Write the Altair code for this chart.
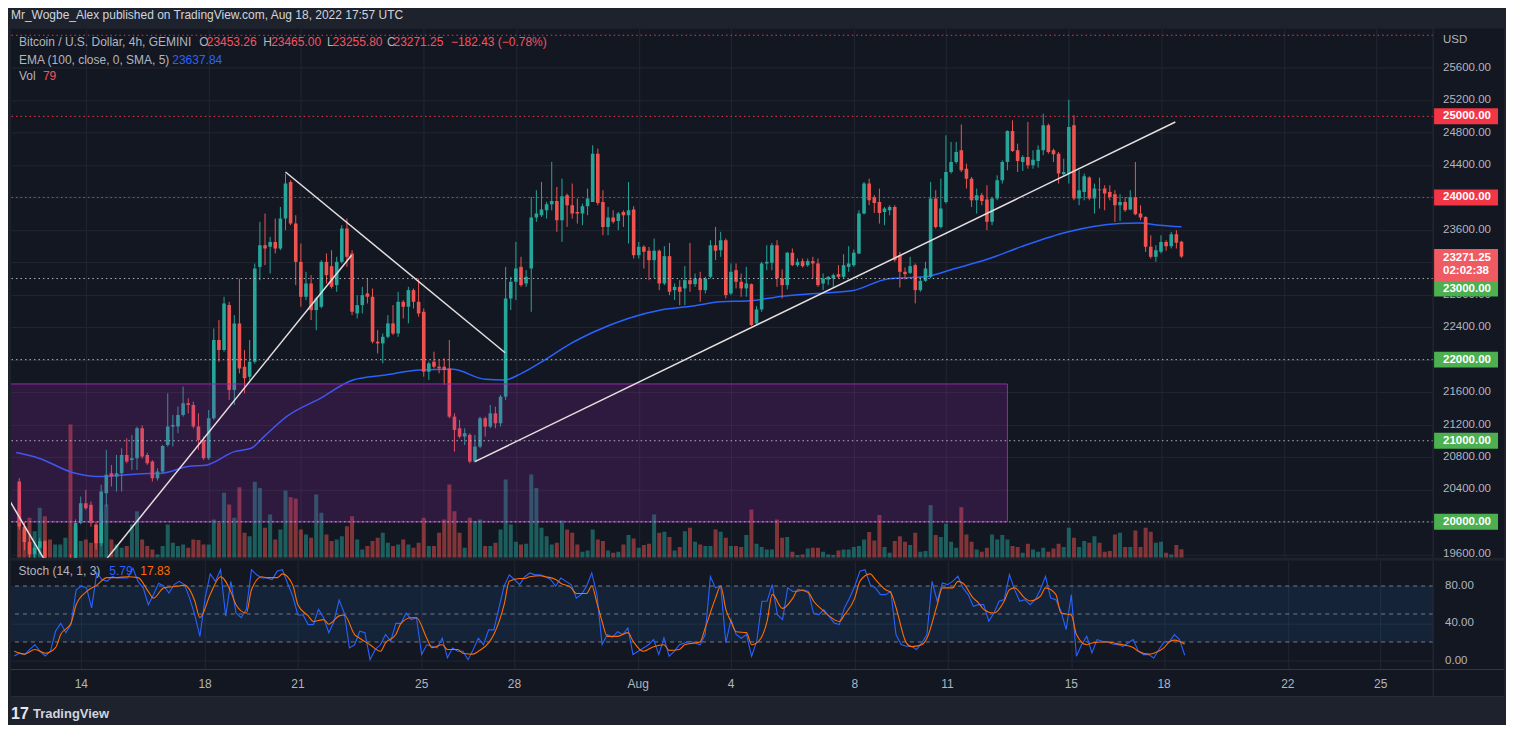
import altair as alt
import pandas as pd

# ------------------------------------------------------------------ data
# 4h candles, index 0 = Jul 11 20:00 UTC ... index 227 = Aug 18 16:00 UTC
OPEN = [
    20497, 19942, 19750, 19600, 19680, 19760, 19500, 19330, 19380, 19420,
    19470, 19380, 19984, 20230, 20209, 19963, 19737, 20353, 20599, 20558,
    20599, 20825, 20763, 20784, 21153, 20825, 20743, 20538, 20620, 20948,
    21174, 21174, 21318, 21461, 21441, 21174, 21010, 20784, 21277, 22241,
    22118, 22673, 21626, 22447, 21913, 21790, 21974, 23144, 23411, 23391,
    23452, 23370, 23740, 24191, 23678, 23206, 22775, 22939, 22611, 22652,
    23206, 23152, 22919, 23206, 23616, 23309, 22570, 22672, 22816, 22775,
    22221, 22200, 22282, 22447, 22323, 22713, 22652, 22857, 22713, 22590,
    21851, 21974, 21913, 21913, 21892, 21297, 21153, 21051, 21072, 20743,
    20928, 21277, 21174, 21338, 21215, 21543, 22754, 22960, 23144, 22939,
    23124, 23752, 23781, 23842, 23916, 23957, 23719, 24027, 23904, 23822,
    23801, 23892, 23945, 24540, 23945, 23637, 23752, 23711, 23822, 23781,
    23850, 23288, 23391, 23342, 23227, 23342, 22939, 23276, 22857, 22898,
    22878, 22980, 22931, 23001, 22857, 23021, 23411, 23350, 23473, 22816,
    23103, 22960, 22878, 22931, 22447, 22619, 23186, 23194, 23411, 23001,
    22919, 23317, 23165, 23214, 23165, 23214, 23186, 22939, 22988, 23001,
    23054, 23021, 23144, 23165, 23309, 23801, 24171, 24007, 23945, 23822,
    23842, 23883, 23288, 23083, 23070, 23165, 22857, 22972, 23021, 23986,
    23637, 23945, 24314, 24438, 24581, 24355, 24232, 23965, 24027, 23974,
    23700, 23986, 24212, 24437, 24819, 24581, 24438, 24499, 24396, 24450,
    24581, 24889, 24581, 24540, 24286, 24294, 24889, 23986, 24068, 24245,
    23986, 24097, 24109, 24068, 24039, 23904, 23945, 23850, 24007, 23801,
    23760, 23391, 23268, 23329, 23452, 23399, 23547, 23453.26,
]
HIGH = [
    20539, 20000, 19850, 19720, 19800, 19780, 19540, 19420, 19450, 19500,
    19600, 20030, 20312, 20394, 20250, 20000, 20456, 20887, 20702, 20825,
    20907, 21030, 21071, 21174, 21190, 20850, 20760, 20660, 20948, 21584,
    21318, 21420, 21667, 21523, 21482, 21338, 21051, 21379, 22385, 22488,
    22775, 22713, 22549, 23001, 22118, 22241, 23185, 23699, 23801, 23514,
    23740, 23883, 24294, 24212, 23781, 23432, 23083, 23042, 22775, 23226,
    23309, 23350, 23268, 23657, 23740, 23350, 22795, 22898, 23001, 22877,
    22364, 22323, 22549, 22672, 22837, 22734, 22898, 22877, 23001, 22631,
    21974, 22098, 21995, 22016, 22241, 21338, 21256, 21153, 21092, 21072,
    21297, 21297, 21441, 21420, 21564, 23144, 23021, 23452, 23268, 23103,
    24007, 24089, 24191, 23945, 24438, 24130, 24232, 24048, 24171, 23986,
    23924, 24109, 24643, 24602, 24089, 23883, 23842, 23822, 23842, 24191,
    23892, 23452, 23411, 23391, 23493, 23358, 23399, 23440, 22939, 22980,
    23153, 23440, 23062, 23083, 23021, 23473, 23637, 23576, 23493, 23186,
    23186, 23062, 23144, 22939, 22660, 23206, 23411, 23440, 23473, 23112,
    23329, 23370, 23247, 23247, 23247, 23268, 23247, 23062, 23029, 23062,
    23165, 23300, 23399, 23358, 23842, 24191, 24232, 24027, 24109, 23883,
    23904, 23904, 23329, 23136, 23268, 23186, 23021, 23206, 24191, 24089,
    24232, 24766, 24684, 24684, 24900, 24417, 24253, 24109, 24056, 24150,
    24007, 24273, 24458, 24827, 24951, 24663, 24520, 24930, 24581, 24643,
    25033, 24910, 24602, 24561, 24478, 25205, 25012, 24335, 24294, 24261,
    24171, 24245, 24150, 24150, 24089, 24039, 24007, 24089, 24437, 23904,
    23768, 23534, 23411, 23534, 23473, 23575, 23596, 23465.00,
]
LOW = [
    19902, 19650, 19560, 19520, 19600, 19450, 19280, 19250, 19300, 19350,
    18910, 19350, 19970, 20148, 19940, 19660, 19700, 20189, 20435, 20373,
    20374, 20722, 20640, 20640, 20780, 20702, 20497, 20510, 20599, 20928,
    20928, 21092, 21297, 21338, 21153, 20887, 20764, 20764, 21256, 21974,
    22098, 21502, 21441, 21831, 21584, 21749, 21950, 22980, 23165, 23062,
    23309, 23350, 23596, 23658, 22919, 22652, 22734, 22488, 22364, 22632,
    22939, 22877, 22837, 23186, 23144, 22549, 22508, 22570, 22693, 22200,
    22077, 21954, 22262, 22303, 22282, 22508, 22447, 22631, 22529, 21790,
    21749, 21892, 21831, 21687, 21277, 20866, 21030, 20948, 20722, 20731,
    20907, 21051, 21153, 21153, 21174, 21502, 22611, 22734, 22898, 22898,
    22590, 23699, 23760, 23740, 23842, 23576, 23452, 23637, 23740, 23678,
    23658, 23781, 23945, 23904, 23535, 23535, 23678, 23596, 23637, 23432,
    23247, 23247, 23124, 22980, 23001, 22857, 22919, 22796, 22734, 22672,
    22672, 22837, 22898, 22714, 22816, 23001, 23227, 23268, 22755, 22796,
    22878, 22775, 22775, 22414, 22426, 22590, 23103, 23103, 22898, 22755,
    22865, 23153, 23144, 23136, 23144, 23001, 22898, 22857, 22919, 22898,
    23001, 23001, 23083, 23144, 23300, 23790, 23904, 23809, 23678, 23658,
    23781, 23206, 22890, 22988, 23054, 22693, 22837, 22960, 23001, 23617,
    23617, 23924, 24294, 24417, 24314, 24109, 23883, 23801, 23904, 23596,
    23658, 23966, 24171, 24335, 24561, 24314, 24327, 24355, 24355, 24368,
    24520, 24540, 24437, 24171, 24253, 24171, 23965, 23904, 23965, 23965,
    23801, 23863, 23842, 23965, 23699, 23711, 23822, 23842, 23781, 23719,
    23329, 23247, 23206, 23309, 23342, 23370, 23370, 23255.80,
]
CLOSE = [
    19942, 19750, 19600, 19680, 19760, 19500, 19330, 19380, 19420, 19470,
    19380, 19984, 20230, 20168, 19984, 19737, 20374, 20579, 20558, 20600,
    20825, 20743, 20784, 21153, 20805, 20722, 20538, 20620, 20936, 21174,
    21195, 21318, 21461, 21441, 21174, 21010, 20784, 21277, 22241, 22118,
    22693, 21626, 22447, 21892, 21769, 21974, 23124, 23411, 23370, 23452,
    23370, 23740, 24171, 23678, 23206, 22775, 22939, 22611, 22754, 23206,
    23042, 22898, 23206, 23616, 23268, 22590, 22672, 22795, 22775, 22221,
    22200, 22282, 22447, 22323, 22713, 22652, 22857, 22713, 22570, 21851,
    21954, 21913, 21892, 21872, 21297, 21133, 21051, 21092, 20743, 20928,
    21277, 21174, 21338, 21215, 21543, 22754, 22960, 23124, 22919, 23021,
    23752, 23801, 23851, 23916, 23957, 23719, 24015, 23904, 23801, 23801,
    23892, 23986, 24540, 23933, 23637, 23752, 23699, 23801, 23781, 23842,
    23288, 23391, 23329, 23227, 23342, 22939, 23276, 22837, 22898, 22837,
    22980, 22931, 23001, 22857, 23001, 23411, 23342, 23473, 22796, 23083,
    22960, 22878, 22939, 22426, 22619, 23186, 23206, 23411, 23001, 22919,
    23317, 23165, 23206, 23153, 23214, 23186, 22919, 23001, 23021, 23042,
    23021, 23165, 23186, 23317, 23801, 24171, 23966, 23933, 23809, 23863,
    23883, 23227, 23083, 23054, 23153, 22857, 22972, 23124, 23986, 23637,
    23863, 24314, 24438, 24561, 24335, 24232, 23965, 24027, 23957, 23700,
    23986, 24212, 24437, 24819, 24573, 24450, 24499, 24396, 24466, 24589,
    24889, 24561, 24532, 24294, 24314, 24868, 23986, 24089, 24261, 23986,
    24109, 24089, 24048, 24007, 23904, 23945, 23842, 24007, 23793, 23752,
    23391, 23268, 23350, 23452, 23399, 23547, 23440, 23271.25,
]
VOLUME = [
    454, 266, 376, 250, 470, 391, 172, 125, 125, 188,
    1252, 297, 157, 172, 141, 313, 438, 501, 172, 125,
    94, 110, 313, 438, 172, 110, 78, 31, 110, 313,
    141, 110, 125, 94, 172, 166, 125, 125, 360, 329,
    610, 501, 376, 664, 235, 203, 714, 657, 282, 407,
    172, 266, 632, 570, 557, 266, 219, 188, 595, 423,
    219, 157, 172, 203, 297, 391, 172, 78, 110, 157,
    188, 235, 141, 110, 125, 172, 125, 94, 141, 376,
    110, 110, 235, 360, 689, 438, 235, 94, 376, 344,
    360, 110, 110, 141, 266, 736, 313, 150, 125, 131,
    783, 657, 282, 203, 125, 141, 351, 266, 235, 125,
    56, 69, 266, 172, 157, 69, 47, 56, 125, 213,
    182, 94, 119, 131, 407, 235, 244, 194, 69, 100,
    250, 282, 150, 125, 110, 110, 266, 244, 188, 110,
    110, 100, 213, 454, 131, 100, 78, 78, 360, 188,
    194, 56, 25, 31, 88, 94, 94, 56, 31, 25,
    69, 78, 78, 100, 110, 172, 241, 163, 401, 100,
    47, 157, 203, 150, 119, 235, 56, 63, 495, 213,
    194, 319, 150, 94, 476, 219, 150, 78, 56, 94,
    219, 172, 213, 172, 110, 100, 47, 131, 78, 56,
    94, 56, 88, 131, 100, 282, 188, 100, 157, 141,
    203, 141, 56, 63, 219, 235, 100, 100, 257, 100,
    282, 244, 141, 150, 47, 31, 119, 79,
]
STOCH_K = [
    5, 8, 6.5, 12, 17, 10, 5, 10, 31.5, 40,
    30, 38.6, 76, 80, 78, 56.5, 94, 87, 85, 90,
    88.6, 88.6, 88.6, 99, 85, 78, 60, 71, 83, 80,
    72.5, 81.5, 85, 81.5, 67, 49, 26, 67, 93, 85,
    97.5, 47.6, 85, 51, 46, 55, 97.5, 92, 88.6, 88.6,
    87, 96, 97.5, 83, 69, 49, 49, 38.6, 38.6, 55,
    46, 30, 42, 65, 51, 13.6, 17, 31.5, 30, 1,
    12, 17, 28, 21, 40, 40, 51, 44, 46, 6.5,
    17, 15.4, 13.6, 24, 3, 13.6, 10, 10, 1, 12,
    24, 17, 33, 33, 56.5, 80, 92, 87, 81.5, 90,
    94, 92, 92, 90, 87, 80, 88.6, 85, 81.5, 67,
    71, 80, 94, 71, 17.2, 28, 25, 31, 28, 35,
    6.5, 10, 13.6, 17, 22.6, 6.5, 24.4, 4.7, 10, 17,
    19, 20.8, 19, 17, 28, 90, 78, 80, 19, 44,
    28, 24, 28, 4.7, 20.8, 63.6, 63.6, 81.5, 49.3, 44,
    78, 74.3, 74.3, 76, 74.3, 51, 49, 54.7, 47.6, 40.4,
    38.6, 56.5, 67.2, 79.7, 95.8, 97.5, 81.5, 77.9, 70.8, 70.8,
    74.3, 28, 17.2, 15.4, 15.4, 11.9, 19, 27.9, 85, 63.6,
    83.3, 81.5, 85, 90.4, 77.9, 70.8, 58.3, 60, 60, 42.2,
    51.1, 63.6, 65.4, 92.2, 76.1, 63.6, 65.4, 60, 65.4, 76.1,
    90.4, 67.2, 65.4, 52.9, 33.3, 70.8, 4.7, 17.2, 26.1, 8.3,
    22.6, 20.8, 20.1, 17.9, 17.2, 15.4, 19, 22.6, 10.1, 6.5,
    6.5, 2.9, 11.9, 20.1, 20.1, 27.9, 22.6, 5.79,
]
STOCH_D_IDX = [
    0, 2, 4, 6, 8, 9, 11, 12, 14, 16, 18, 20, 22, 24, 26, 27, 29, 32, 33, 35,
    36, 38, 40, 42, 43, 45, 46, 48, 49, 51, 52, 54, 55, 57, 58, 60, 61, 63, 64, 66,
    67, 69, 71, 72, 74, 75, 77, 78, 80, 81, 83, 84, 86, 87, 89, 90, 92, 93, 95, 96,
    98, 99, 100, 102, 103, 105, 106, 108, 109, 111, 112, 113, 114, 115, 117, 119, 120, 122, 124, 126,
    127, 129, 130, 132, 133, 134, 136, 137, 138, 139, 140, 142, 143, 144, 146, 147, 149, 151, 152, 154,
    155, 157, 158, 160, 161, 163, 164, 166, 167, 169, 170, 171, 173, 174, 176, 177, 179, 180, 182, 183,
    184, 186, 187, 188, 190, 192, 193, 194, 196, 197, 199, 200, 202, 203, 205, 206, 208, 209, 211, 212,
    214, 215, 217, 218, 220, 221, 223, 224, 225, 227,
]
STOCH_D = [
    10, 7, 12, 8, 14, 28, 40, 60, 74, 81, 89, 89, 90, 89, 74, 67, 78, 80, 81, 64,
    46, 71, 90, 74, 60, 51, 76, 90, 89, 89, 93, 81, 60, 48, 42, 44, 39, 48, 49, 28,
    24, 17, 10, 19, 28, 40, 46, 46, 24, 14, 17, 12, 12, 8, 7, 10, 19, 28, 60, 85,
    88, 88, 90, 91, 90, 87, 83, 78, 72, 72, 80, 62, 42, 26, 26, 30, 21, 10, 15, 17,
    11, 12, 17, 19, 20, 35, 67, 80, 55, 42, 31, 30, 17, 19, 42, 71, 56, 67, 76, 73,
    64, 53, 48, 42, 49, 67, 85, 93, 87, 76, 73, 57, 19, 15, 17, 24, 60, 78, 78, 85,
    83, 67, 62, 55, 51, 64, 76, 78, 67, 64, 69, 78, 71, 51, 49, 28, 17, 19, 20, 20,
    18, 17, 14, 10, 7, 8, 14, 20, 22, 17.83,
]
EMA_IDX = [-0.6, 3.8, 10.4, 15.3, 23.2, 27.8, 32.9, 36.7, 42.0, 45.3, 47.8, 52.2,
           58.8, 65.2, 71.6, 78.2, 84.6, 91.0, 94.8, 98.1, 102.6, 107.2, 112.3,
           118.9, 125.3, 131.6, 136.9, 142.7, 149.1, 155.7, 162.6, 169.8, 176.9,
           182.8, 189.2, 195.6, 204.7, 214.9, 218.8, 222.7, 227.0]
EMA_VAL = [20854, 20785, 20608, 20558, 20591, 20600, 20681, 20702, 20866, 20907,
           21050, 21297, 21523, 21749, 21810, 21872, 21880, 21757, 21749, 21831,
           21995, 22180, 22344, 22508, 22611, 22660, 22713, 22726, 22783, 22816,
           22849, 22997, 23021, 23124, 23240, 23390, 23575, 23679, 23686, 23658,
           23637.84]

TICK_IDX = [13, 37, 55, 79, 97, 121, 139, 163, 181, 205, 223, 247, 265]
TICK_LABELS = ["14", "18", "21", "25", "28", "Aug", "4", "8", "11", "15", "18", "22", "25"]
PRICE_TICKS = [19600, 20000, 20400, 20800, 21200, 21600, 22000, 22400, 22800,
               23200, 23600, 24000, 24400, 24800, 25200, 25600]
# price-scale labels left visible (the others sit under the coloured tags)
PRICE_LABELS = [19600, 20400, 20800, 21200, 21600, 22400, 22800,
                23600, 24400, 24800, 25200, 25600]
RED_LEVELS = [26000, 25000, 24000]
GREY_LEVELS = [23000, 22000, 21000, 20000]
RED_LABELS = [25000, 24000]
GREEN_LABELS = [23000, 22000, 21000, 20000]
BOX_IDX = [-5, 193]
BOX_PRICE = [20000, 21700]
TREND_SEG = [1, 1, 2, 2, 3, 3, 4, 4]
TREND_IDX = [-3, 6, 10, 64.9, 52, 94.9, 89, 225.8]
TREND_PRICE = [20380, 19416, 18990, 23288, 24314, 22085, 20743, 24930]
STOCH_GRID = [0, 40]
STOCH_TICKS = [0, 40, 80]
STOCH_LINES = [20, 50, 80]
STOCH_BAND = [20, 80]
TIMER = "02:02:38"
CHANGE = "\u2212182.43 (\u22120.78%)"
HEADER = "Mr_Wogbe_Alex published on TradingView.com, Aug 18, 2022 17:57 UTC"

# ------------------------------------------------------------------ layout / style
W, H, H2 = 1424, 530, 109
X_DOMAIN = [-0.64, 275.17]
P_DOMAIN = [19557, 26084]
V_DOMAIN = [0, 4977]
S_DOMAIN = [-9.6, 107.1]
FONT = "Liberation Sans"
BG = "#131722"
FRAME = "#1e222d"
GRID = "#222632"
TXT = "#b2b5be"
UP = "#26a69a"
DN = "#ef5350"
BLUE = "#2962ff"
ORANGE = "#ff6d00"
GREY_T = "#b2b5be"
RED_T = "#f7525f"

n = min(len(OPEN), len(HIGH), len(LOW), len(CLOSE), len(VOLUME), len(STOCH_K))
df = pd.DataFrame({"i": list(range(n)), "o": OPEN[:n], "h": HIGH[:n], "l": LOW[:n],
                   "c": CLOSE[:n], "v": VOLUME[:n], "k": STOCH_K[:n]})
m = min(len(STOCH_D_IDX), len(STOCH_D))
d_df = pd.DataFrame({"i": STOCH_D_IDX[:m], "d": STOCH_D[:m]})
m2 = min(len(EMA_IDX), len(EMA_VAL))
ema_df = pd.DataFrame({"i": EMA_IDX[:m2], "e": EMA_VAL[:m2]})
one = pd.DataFrame({"z": [0]})

xs = alt.Scale(domain=X_DOMAIN, nice=False, zero=False)
ys = alt.Scale(domain=P_DOMAIN, nice=False, zero=False)
ss = alt.Scale(domain=S_DOMAIN, nice=False, zero=False)
x_axis = alt.Axis(values=TICK_IDX, grid=True, gridColor=GRID, gridWidth=1,
                  labels=False, ticks=False, domain=False, title=None)
y_axis = alt.Axis(values=PRICE_TICKS, grid=True, gridColor=GRID, gridWidth=1,
                  labels=False, ticks=False, domain=False, title=None)
s_axis = alt.Axis(values=STOCH_GRID, grid=True, gridColor=GRID, gridWidth=1,
                  labels=False, ticks=False, domain=False, title=None)


def X(field="i"):
    return alt.X(f"{field}:Q", scale=xs, axis=x_axis)


def Y(field, grid=False):
    if grid:
        return alt.Y(f"{field}:Q", scale=ys, axis=y_axis)
    return alt.Y(f"{field}:Q", scale=ys, axis=None)


def SY(field, grid=False):
    if grid:
        return alt.Y(f"{field}:Q", scale=ss, axis=s_axis)
    return alt.Y(f"{field}:Q", scale=ss, axis=None)


def pix_rect(x1, x2, y1, y2, color):
    return alt.Chart(one).mark_rect(color=color).encode(
        x=alt.value(x1), x2=alt.value(x2), y=alt.value(y1), y2=alt.value(y2))


def pix_rule(x1, x2, y1, y2, color):
    return alt.Chart(one).mark_rule(color=color, strokeWidth=1).encode(
        x=alt.value(x1), x2=alt.value(x2), y=alt.value(y1), y2=alt.value(y2))


def txt(s, x, y, color, size=12, weight="normal", align="left"):
    return alt.Chart(pd.DataFrame({"t": [s]})).mark_text(
        align=align, baseline="middle", color=color, fontSize=size,
        font=FONT, fontWeight=weight).encode(text="t:N", x=alt.value(x), y=alt.value(y))


base = alt.Chart(df)
is_up = alt.datum.c >= alt.datum.o
is_dn = alt.datum.c < alt.datum.o

vol_up = base.transform_filter(is_up).mark_bar(size=4, color=UP, opacity=0.5, clip=True).encode(
    x=X(), y=alt.Y("v:Q", scale=alt.Scale(domain=V_DOMAIN, nice=False), axis=None))
vol_dn = base.transform_filter(is_dn).mark_bar(size=4, color=DN, opacity=0.5, clip=True).encode(
    x=X(), y=alt.Y("v:Q", scale=alt.Scale(domain=V_DOMAIN, nice=False), axis=None))

ema = alt.Chart(ema_df).mark_line(color=BLUE, strokeWidth=1.5, clip=True,
                                  interpolate="monotone").encode(x=X(), y=Y("e"))

wick_up = base.transform_filter(is_up).mark_rule(color=UP, strokeWidth=1, clip=True).encode(
    x=X(), y=Y("l", grid=True), y2=alt.Y2("h"))
wick_dn = base.transform_filter(is_dn).mark_rule(color=DN, strokeWidth=1, clip=True).encode(
    x=X(), y=Y("l"), y2=alt.Y2("h"))
body_up = base.transform_filter(is_up).mark_bar(size=3.6, color=UP, clip=True).encode(
    x=X(), y=Y("o"), y2=alt.Y2("c"))
body_dn = base.transform_filter(is_dn).mark_bar(size=3.6, color=DN, clip=True).encode(
    x=X(), y=Y("o"), y2=alt.Y2("c"))

box_df = pd.DataFrame({"i1": [BOX_IDX[0]], "i2": [BOX_IDX[1]],
                       "p1": [BOX_PRICE[0]], "p2": [BOX_PRICE[1]]})
box = alt.Chart(box_df).mark_rect(fill="#9c27b0", fillOpacity=0.2, stroke="#9c27b0",
                                  strokeWidth=1, clip=True).encode(
    x=X("i1"), x2=alt.X2("i2"), y=Y("p1"), y2=alt.Y2("p2"))

lv_red = alt.Chart(pd.DataFrame({"p": RED_LEVELS})).mark_rule(
    color="#f23645", strokeDash=[1.5, 3], strokeWidth=1).encode(y=Y("p"))
lv_grey = alt.Chart(pd.DataFrame({"p": GREY_LEVELS})).mark_rule(
    color="#c9ccd3", strokeDash=[1.5, 3], strokeWidth=1, opacity=0.85).encode(y=Y("p"))

trend_df = pd.DataFrame({"seg": TREND_SEG, "i": TREND_IDX, "p": TREND_PRICE})
trend = alt.Chart(trend_df).mark_line(color="#e6dfe0", strokeWidth=1.5, clip=True).encode(
    x=X(), y=Y("p"), detail="seg:N")

price_labels = alt.Chart(pd.DataFrame({"p": PRICE_LABELS})).transform_calculate(
    t="format(datum.p, '.2f')").mark_text(
    align="left", baseline="middle", color=TXT, fontSize=11.5, font=FONT).encode(
    x=alt.value(W + 10), y=Y("p"), text="t:N")


def level_labels(vals, color, shift=0):
    d = pd.DataFrame({"p": vals})
    r = alt.Chart(d).mark_rect(color=color, yOffset=-8 + shift, y2Offset=8 + shift).encode(
        x=alt.value(W + 1), x2=alt.value(W + 65), y=Y("p"), y2=alt.Y2("p"))
    t = alt.Chart(d).transform_calculate(t="format(datum.p, '.2f')").mark_text(
        align="left", baseline="middle", color="#ffffff", fontSize=11.5, font=FONT,
        fontWeight="bold", dy=shift).encode(x=alt.value(W + 10), y=Y("p"), text="t:N")
    return [r, t]


cp_df = pd.DataFrame({"p": [CLOSE[n - 1]], "t": [f"{CLOSE[n - 1]:.2f}"], "tm": [TIMER]})
cp_rect = alt.Chart(cp_df).mark_rect(color="#f05a62", yOffset=-7.5, y2Offset=24.5).encode(
    x=alt.value(W + 1), x2=alt.value(W + 65), y=Y("p"), y2=alt.Y2("p"))
cp_txt = alt.Chart(cp_df).mark_text(align="left", baseline="middle", color="#ffffff",
                                    fontSize=11.5, font=FONT, fontWeight="bold", dy=1).encode(
    x=alt.value(W + 10), y=Y("p"), text="t:N")
cp_tm = alt.Chart(cp_df).mark_text(align="left", baseline="middle", color="#ffffff",
                                   fontSize=11.5, font=FONT, fontWeight="bold", dy=14.5).encode(
    x=alt.value(W + 10), y=Y("p"), text="tm:N")

legend = [
    txt("Bitcoin / U.S. Dollar, 4h, GEMINI", 8, 13.7, GREY_T),
    txt("O", 188.5, 13.7, GREY_T), txt(f"{OPEN[n - 1]:.2f}", 196, 13.7, RED_T),
    txt("H", 252.5, 13.7, GREY_T), txt(f"{HIGH[n - 1]:.2f}", 260.5, 13.7, RED_T),
    txt("L", 316.5, 13.7, GREY_T), txt(f"{LOW[n - 1]:.2f}", 322, 13.7, RED_T),
    txt("C", 376.5, 13.7, GREY_T), txt(f"{CLOSE[n - 1]:.2f}", 383, 13.7, RED_T),
    txt(CHANGE, 440.5, 13.7, RED_T),
    txt("EMA (100, close, 0, SMA, 5)", 8, 31.3, GREY_T),
    txt(f"{EMA_VAL[m2 - 1]:.2f}", 161.5, 31.3, BLUE),
    txt("Vol", 8, 48, GREY_T), txt(f"{VOLUME[n - 1]}", 32, 48, RED_T),
]

main_layers = [
    pix_rect(0, W + 71, -20, 0, FRAME),
    vol_up, vol_dn, ema,
    wick_up, wick_dn, body_up, body_dn,
    box, lv_red, lv_grey, trend,
    pix_rect(W, W + 71, 0, H, BG),
    pix_rule(W, W, 0, H, "#2a2e39"),
    price_labels,
    *level_labels(RED_LABELS, "#f23645"),
    *level_labels(GREEN_LABELS[:1], "#4caf50", shift=10),
    *level_labels(GREEN_LABELS[1:], "#4caf50"),
    cp_rect, cp_txt, cp_tm,
    txt("USD", W + 10, 12, GREY_T, size=11.5),
    *legend,
    txt(HEADER, 0, -13.5, "#d1d4dc", size=12),
]
main = alt.layer(*main_layers).properties(width=W, height=H).resolve_scale(y="independent")

# ------------------------------------------------------------------ stochastic panel
band = alt.Chart(pd.DataFrame({"lo": [STOCH_BAND[0]], "hi": [STOCH_BAND[1]]})).mark_rect(
    color="#2196f3", opacity=0.1).encode(
    x=alt.value(0), x2=alt.value(W), y=SY("hi", grid=True), y2=alt.Y2("lo"))
s_rules = alt.Chart(pd.DataFrame({"s": STOCH_LINES})).mark_rule(
    color="#787b86", strokeDash=[4, 4], strokeWidth=1).encode(y=SY("s"))
k_line = base.mark_line(color=BLUE, strokeWidth=1.1).encode(x=X(), y=SY("k"))
d_line = alt.Chart(d_df).mark_line(color=ORANGE, strokeWidth=1.1,
                                   interpolate="monotone").encode(x=X(), y=SY("d"))
s_labels = alt.Chart(pd.DataFrame({"s": STOCH_TICKS})).transform_calculate(
    t="format(datum.s, '.2f')").mark_text(
    align="left", baseline="middle", color=TXT, fontSize=11.5, font=FONT).encode(
    x=alt.value(W + 12), y=SY("s"), text="t:N")
x_labels = alt.Chart(pd.DataFrame({"i": TICK_IDX, "t": TICK_LABELS})).mark_text(
    align="center", baseline="middle", color=TXT, fontSize=12, font=FONT).encode(
    x=X(), y=alt.value(H2 + 14), text="t:N")
s_legend = [
    txt("Stoch (14, 1, 3)", 7.5, 10.7, GREY_T),
    txt(f"{STOCH_K[n - 1]:.2f}", 98.5, 10.7, BLUE),
    txt(f"{STOCH_D[m - 1]:.2f}", 129.5, 10.7, ORANGE),
]
stoch_layers = [
    band, s_rules, k_line, d_line,
    pix_rect(W, W + 71, 0, H2 + 27, BG),
    pix_rect(0, W, H2, H2 + 27, BG),
    pix_rect(0, W + 71, H2 + 27, H2 + 55, FRAME),
    pix_rule(W, W, 0, H2 + 27, "#2a2e39"),
    pix_rule(0, W + 71, H2, H2, "#363a45"),
    pix_rule(0, W + 71, H2 + 27, H2 + 27, "#2a2e39"),
    s_labels, x_labels, *s_legend,
    txt("17", 0, H2 + 44.5, "#e6e8ee", size=16, weight=900),
    txt("TradingView", 22, H2 + 44.5, "#d1d4dc", size=13, weight=600),
]
stoch = alt.layer(*stoch_layers).properties(width=W, height=H2).resolve_scale(y="independent")

chart = alt.vconcat(
    main, stoch, spacing=3, bounds="flush",
    padding={"left": 2, "top": 0, "right": 1, "bottom": 0},
    background=FRAME,
).configure_view(fill=BG, strokeWidth=0)

chart.save("out.html", embed_options={"renderer": "svg", "actions": False})
